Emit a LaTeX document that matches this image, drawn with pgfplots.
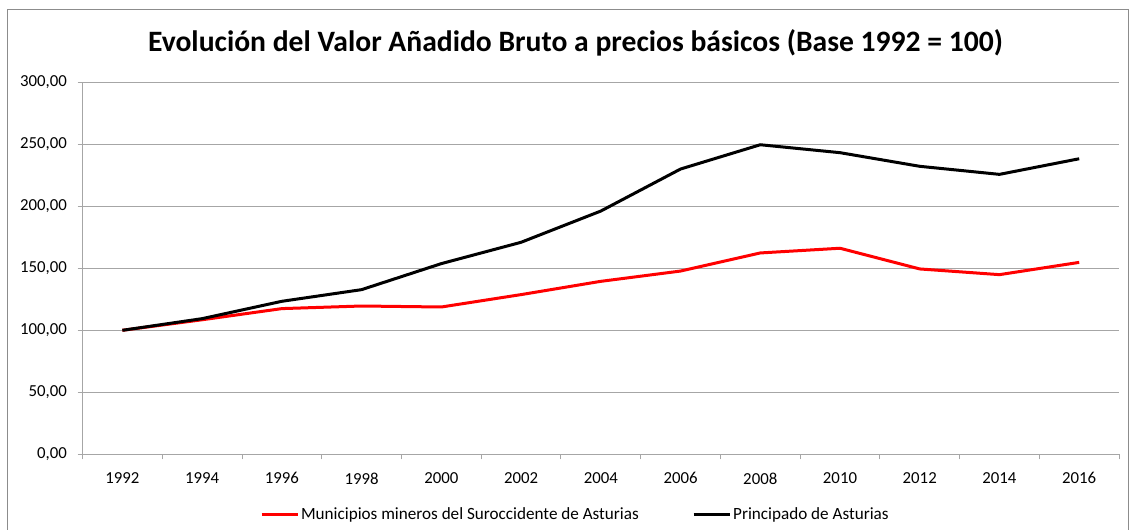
\documentclass[border=0pt]{standalone}
\usepackage{fontspec}
\setmainfont{Carlito}
\usepackage{pgfplots}
\pgfplotsset{compat=1.18}
\definecolor{gridgray}{HTML}{A6A6A6}
\definecolor{framegray}{HTML}{8C8C8C}
\begin{document}
\begin{tikzpicture}
\path[use as bounding box] (0pt,0pt) rectangle (846.75pt,397.5pt);
\draw[framegray, line width=0.75pt] (5.25pt,0pt) -- (5.25pt,390pt) -- (846.4pt,390pt) -- (846.4pt,0pt);
\node[anchor=base, font=\fontsize{22.2}{24}\selectfont\bfseries, inner sep=0pt] at (431.6pt,358.9pt)
  {Evolución del Valor Añadido Bruto a precios básicos (Base 1992 = 100)};
\begin{axis}[
  at={(61.9pt,56.8pt)}, anchor=south west,
  scale only axis, width=777.4pt, height=278.9pt,
  xmin=-0.5, xmax=12.5, ymin=0, ymax=300,
  xtick={0,...,12},
  xticklabels={1992,1994,1996,1998,2000,2002,2004,2006,2008,2010,2012,2014,2016},
  minor xtick={-0.5,0.5,...,12.5},
  ytick={0,50,...,300},
  major x tick style={draw=none},
  tick align=outside,
  major tick length=3.75pt, minor tick length=3.75pt,
  tick style={gridgray, line width=0.75pt},
  ymajorgrids, grid style={gridgray, line width=0.75pt},
  axis x line*=bottom, axis y line*=left,
  axis line style={gridgray, line width=0.75pt, -},
  tick label style={font=\fontsize{12.6}{14}\selectfont},
  /pgf/number format/assume math mode=true,
  yticklabel={\pgfmathprintnumber[fixed, fixed zerofill, precision=2, use comma, 1000 sep={}]{\tick}},
  xticklabel style={yshift=-6.5pt},
  yticklabel style={xshift=-4.5pt},
  legend columns=2,
  legend style={at={(0.171,-0.1620)}, anchor=west, draw=none, inner sep=0pt,
    font=\fontsize{12.85}{14}\selectfont,
    /tikz/every even column/.append style={column sep=39pt},
    nodes={inner sep=1pt}},
  legend image code/.code={\draw[#1] (0pt,0pt) -- (27.5pt,0pt);},
  clip=false,
]
\addplot[red, line width=2.25pt, line join=round] coordinates {
(0,100) (1,108.5) (2,117.5) (3,119.6) (4,118.8) (5,128.8) (6,139.5) (7,147.8) (8,162.4) (9,166.2) (10,149.5) (11,144.9) (12,154.8)};
\addlegendentry{Municipios mineros del Suroccidente de Asturias}
\addplot[black, line width=2.25pt, line join=round] coordinates {
(0,100) (1,109.4) (2,123.4) (3,132.8) (4,153.8) (5,171) (6,196.2) (7,230.1) (8,249.7) (9,243.3) (10,232.3) (11,225.8) (12,238.4)};
\addlegendentry{Principado de Asturias}
\end{axis}
\end{tikzpicture}
\end{document}
